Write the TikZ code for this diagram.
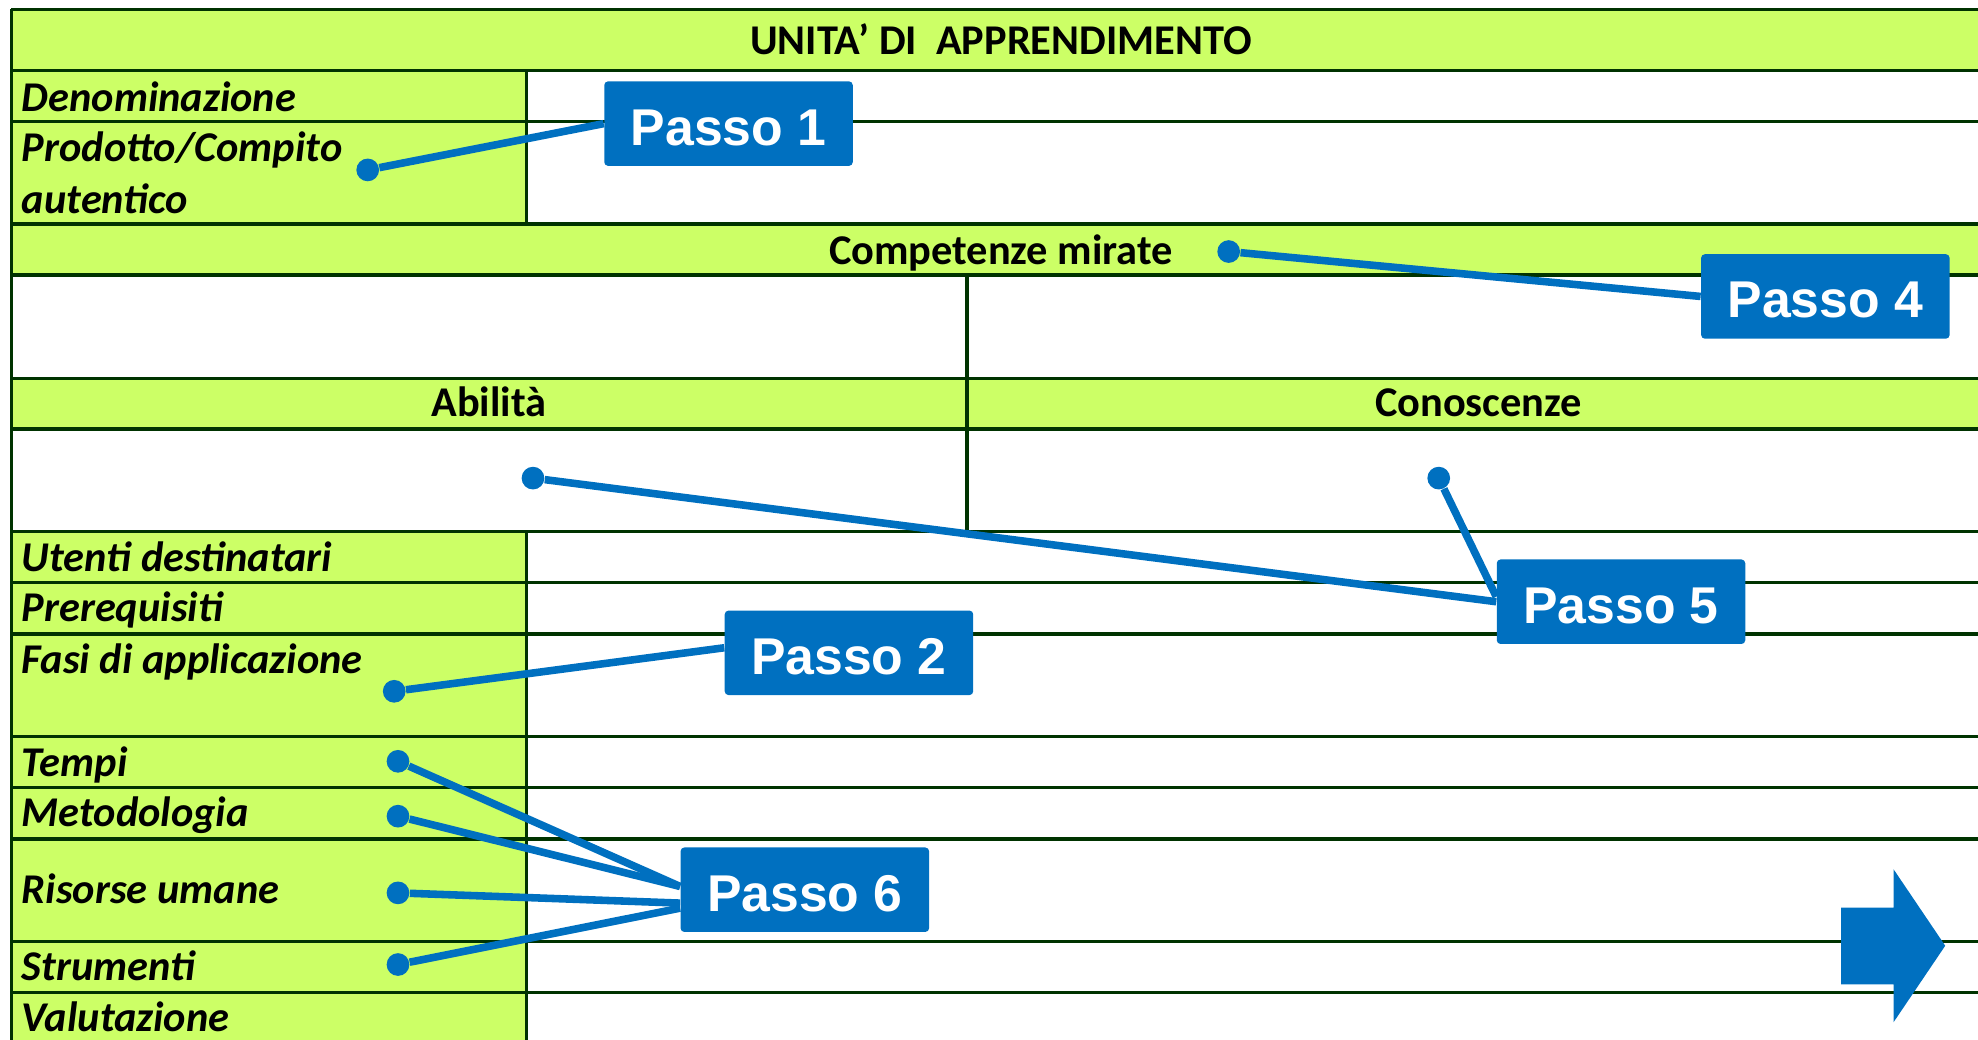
\documentclass[tikz,border=0pt]{standalone}
\usepackage{fontspec}
\setmainfont{Carlito}
\newfontfamily\arialfont{Liberation Sans}
\usepackage{xcolor}
\definecolor{cellgreen}{RGB}{204,255,102}
\definecolor{darkrule}{RGB}{0,51,0}
\definecolor{passoblue}{RGB}{0,112,192}

\begin{document}
\begin{tikzpicture}[x=0.5pt, y=-0.5pt,
    rule/.style={draw=darkrule, line width=1.3pt},
    lbl/.style={anchor=base west, inner sep=0pt, font=\bfseries\itshape\fontsize{16.8}{19}\selectfont},
    hdr/.style={anchor=base, inner sep=0pt, font=\bfseries\fontsize{16.8}{19}\selectfont},
    passo/.style={fill=passoblue, text=white, rounded corners=1.5pt, minimum width=98.5pt,
        minimum height=33.5pt, inner sep=0pt, text height=17pt, text depth=0pt,
        font=\arialfont\bfseries\fontsize{20.5}{24}\selectfont},
    pin/.style={circle, fill=passoblue, inner sep=0pt, minimum size=9pt},
    wire/.style={draw=passoblue, line width=3pt}]
        \useasboundingbox (0,0) rectangle (1568,824);
        \clip (0,0) rectangle (1568,824);

        % green cells
        \fill[cellgreen] (9,7.4) rectangle (1578,56);
        \fill[cellgreen] (9,56) rectangle (417.5,177.5);
        \fill[cellgreen] (9,177.5) rectangle (1578,218);
        \fill[cellgreen] (9,300) rectangle (1578,340);
        \fill[cellgreen] (9,421.4) rectangle (417.5,830);

        % rules
        \foreach \y in {7.4,56,96.4,177.5,218,300,340,421.4,461.9,502.5,583.9,624.3,665,746.3,786.7}
            \draw[rule] (9,\y) -- (1578,\y);
        \draw[rule] (9,7.4) -- (9,830);
        \draw[rule] (417.5,56) -- (417.5,177.5);
        \draw[rule] (417.5,421.4) -- (417.5,830);
        \draw[rule] (766.5,218) -- (766.5,421.4);

        \node[hdr] (title) at (793.5,43.6) {UNITA’ DI\ \ APPRENDIMENTO};
        \node[lbl] (den) at (17,88) {Denominazione};
        \node[lbl] (prod) at (17,128) {Prodotto/Compito};
        \node[lbl] (aut) at (17,169) {autentico};
        \node[hdr] (comp) at (793.5,210) {Competenze mirate};
        \node[hdr] (abil) at (387.5,330) {Abilità};
        \node[hdr] (cono) at (1172,330) {Conoscenze};
        \node[lbl] (ute) at (17,453) {Utenti destinatari};
        \node[lbl] (prer) at (17,493) {Prerequisiti};
        \node[lbl] (fasi) at (17,534) {Fasi di applicazione};
        \node[lbl] (tempi) at (17,615.5) {Tempi};
        \node[lbl] (meto) at (17,655.5) {Metodologia};
        \node[lbl] (riso) at (17,716.5) {Risorse umane};
        \node[lbl] (stru) at (17,777.5) {Strumenti};
        \node[lbl] (valu) at (17,818) {Valutazione};

        \node[passo] (p1) at (577.5,98) {Passo 1};
        \node[passo] (p4) at (1447,235) {Passo 4};
        \node[passo] (p5) at (1285,477) {Passo 5};
        \node[passo] (p2) at (673,517.5) {Passo 2};
        \node[passo] (p6) at (638,705.3) {Passo 6};

        \node[pin] (d1) at (291.5,134.7) {};
        \node[pin] (d4) at (974,199.4) {};
        \node[pin] (d5a) at (422.5,379) {};
        \node[pin] (d5b) at (1140.5,379) {};
        \node[pin] (d2) at (312.5,548) {};
        \node[pin] (d6a) at (315.5,603.5) {};
        \node[pin] (d6b) at (315.5,647) {};
        \node[pin] (d6c) at (315.5,707.8) {};
        \node[pin] (d6d) at (315.5,764.6) {};

        \draw[wire] (d1) -- (p1.west);
        \draw[wire] (d4) -- (p4.west);
        \draw[wire] (d5a) -- (p5.west);
        \draw[wire] (d5b) -- ([yshift=2pt]p5.west);
        \draw[wire] (d2) -- ([yshift=2pt]p2.west);
        \draw[wire] (d6a) -- ([yshift=1.3pt]p6.west);
        \draw[wire] (d6b) -- ([yshift=1.3pt]p6.west);
        \draw[wire] (d6c) -- ([yshift=-5.3pt]p6.west);
        \draw[wire] (d6d) -- ([yshift=-7.3pt]p6.west);

        % arrow
        \fill[passoblue] (1459.5,719.5) -- (1501,719.5) -- (1501,689) -- (1542,749.7)
            -- (1501,810.4) -- (1501,780.3) -- (1459.5,780.3) -- cycle;
\end{tikzpicture}
\end{document}
